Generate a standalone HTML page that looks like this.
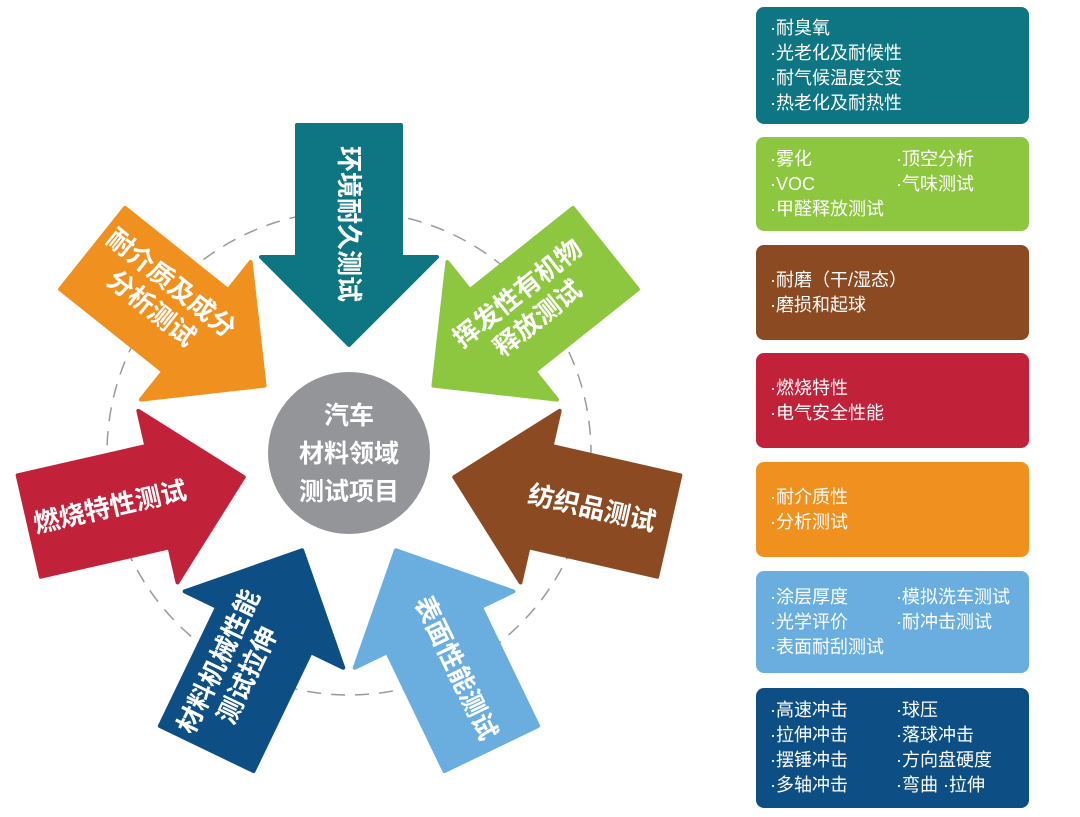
<!DOCTYPE html>
<html><head><meta charset="utf-8"><style>
html,body{margin:0;padding:0;background:#fff;}
body{width:1080px;height:817px;position:relative;overflow:hidden;font-family:"Liberation Sans","Noto Sans CJK SC",sans-serif;}
.box{position:absolute;left:756px;width:273px;border-radius:8px;color:#fff;font-size:18px;line-height:25px;display:flex;flex-direction:column;justify-content:center;box-sizing:border-box;padding-left:14px;}
.row{display:flex;white-space:nowrap;}
.row span:first-child{width:126px;}
svg{position:absolute;left:0;top:0;}
</style></head><body>
<svg width="740" height="817" viewBox="0 0 740 817">
<defs>
<path id="ar" d="M-52,-328 L52,-328 L52,-196 L88,-196 L0,-108 L-88,-196 L-52,-196 Z" stroke-linejoin="round" stroke-width="4"/>
</defs>
<circle cx="349" cy="453" r="242" fill="none" stroke="#9a9a9a" stroke-width="1.5" stroke-dasharray="14 10"/>
<g transform="translate(349,453)">
<use href="#ar" fill="#0e7583" stroke="#0e7583" transform="rotate(0)"/>
<use href="#ar" fill="#8dc63f" stroke="#8dc63f" transform="rotate(51.43)"/>
<use href="#ar" fill="#8b4a22" stroke="#8b4a22" transform="rotate(102.86)"/>
<use href="#ar" fill="#6aaee0" stroke="#6aaee0" transform="rotate(154.29)"/>
<use href="#ar" fill="#0d4f85" stroke="#0d4f85" transform="rotate(205.71)"/>
<use href="#ar" fill="#c1223a" stroke="#c1223a" transform="rotate(257.14)"/>
<use href="#ar" fill="#f0901f" stroke="#f0901f" transform="rotate(308.57)"/>
</g>
<circle cx="349" cy="453" r="81" fill="#939598"/>
<g fill="#fff" font-weight="bold" font-size="25" text-anchor="middle" font-family="Liberation Sans,Noto Sans CJK SC,sans-serif">
<text x="349" y="424">汽车</text>
<text x="349" y="462">材料领域</text>
<text x="349" y="500">测试项目</text>
<g font-size="26">
<text transform="translate(349,224) rotate(90)" y="9">环境耐久测试</text>
<text transform="translate(527,305) rotate(-38.57)"><tspan x="0" y="-6">挥发性有机物</tspan><tspan x="0" y="26">释放测试</tspan></text>
<text transform="translate(592,508) rotate(12.86)" y="9">纺织品测试</text>
<text transform="translate(456,668) rotate(64.29)" y="9">表面性能测试</text>
<text transform="translate(232,668) rotate(-64.29)"><tspan x="0" y="-6">材料机械性能</tspan><tspan x="0" y="26">测试拉伸</tspan></text>
<text transform="translate(110,507) rotate(-12.86)" y="9">燃烧特性测试</text>
<text transform="translate(162,295) rotate(38.57)"><tspan x="0" y="-6">耐介质及成分</tspan><tspan x="0" y="26">分析测试</tspan></text>
</g>
</g>
</svg>

<div class="box" style="top:7px;height:117px;background:#0e7583;">
<div>·耐臭氧</div><div>·光老化及耐候性</div><div>·耐气候温度交变</div><div>·热老化及耐热性</div>
</div>
<div class="box" style="top:137px;height:94px;background:#8dc63f;">
<div class="row"><span>·雾化</span><span>·顶空分析</span></div>
<div class="row"><span>·VOC</span><span>·气味测试</span></div>
<div>·甲醛释放测试</div>
</div>
<div class="box" style="top:245px;height:95px;background:#8b4a22;">
<div>·耐磨（干/湿态）</div><div>·磨损和起球</div>
</div>
<div class="box" style="top:353px;height:95px;background:#c1223a;">
<div>·燃烧特性</div><div>·电气安全性能</div>
</div>
<div class="box" style="top:462px;height:95px;background:#f0901f;">
<div>·耐介质性</div><div>·分析测试</div>
</div>
<div class="box" style="top:571px;height:102px;background:#6aaee0;">
<div class="row"><span>·涂层厚度</span><span>·模拟洗车测试</span></div>
<div class="row"><span>·光学评价</span><span>·耐冲击测试</span></div>
<div>·表面耐刮测试</div>
</div>
<div class="box" style="top:688px;height:120px;background:#0d4f85;">
<div class="row"><span>·高速冲击</span><span>·球压</span></div>
<div class="row"><span>·拉伸冲击</span><span>·落球冲击</span></div>
<div class="row"><span>·摆锤冲击</span><span>·方向盘硬度</span></div>
<div class="row"><span>·多轴冲击</span><span>·弯曲 ·拉伸</span></div>
</div>
</body></html>
